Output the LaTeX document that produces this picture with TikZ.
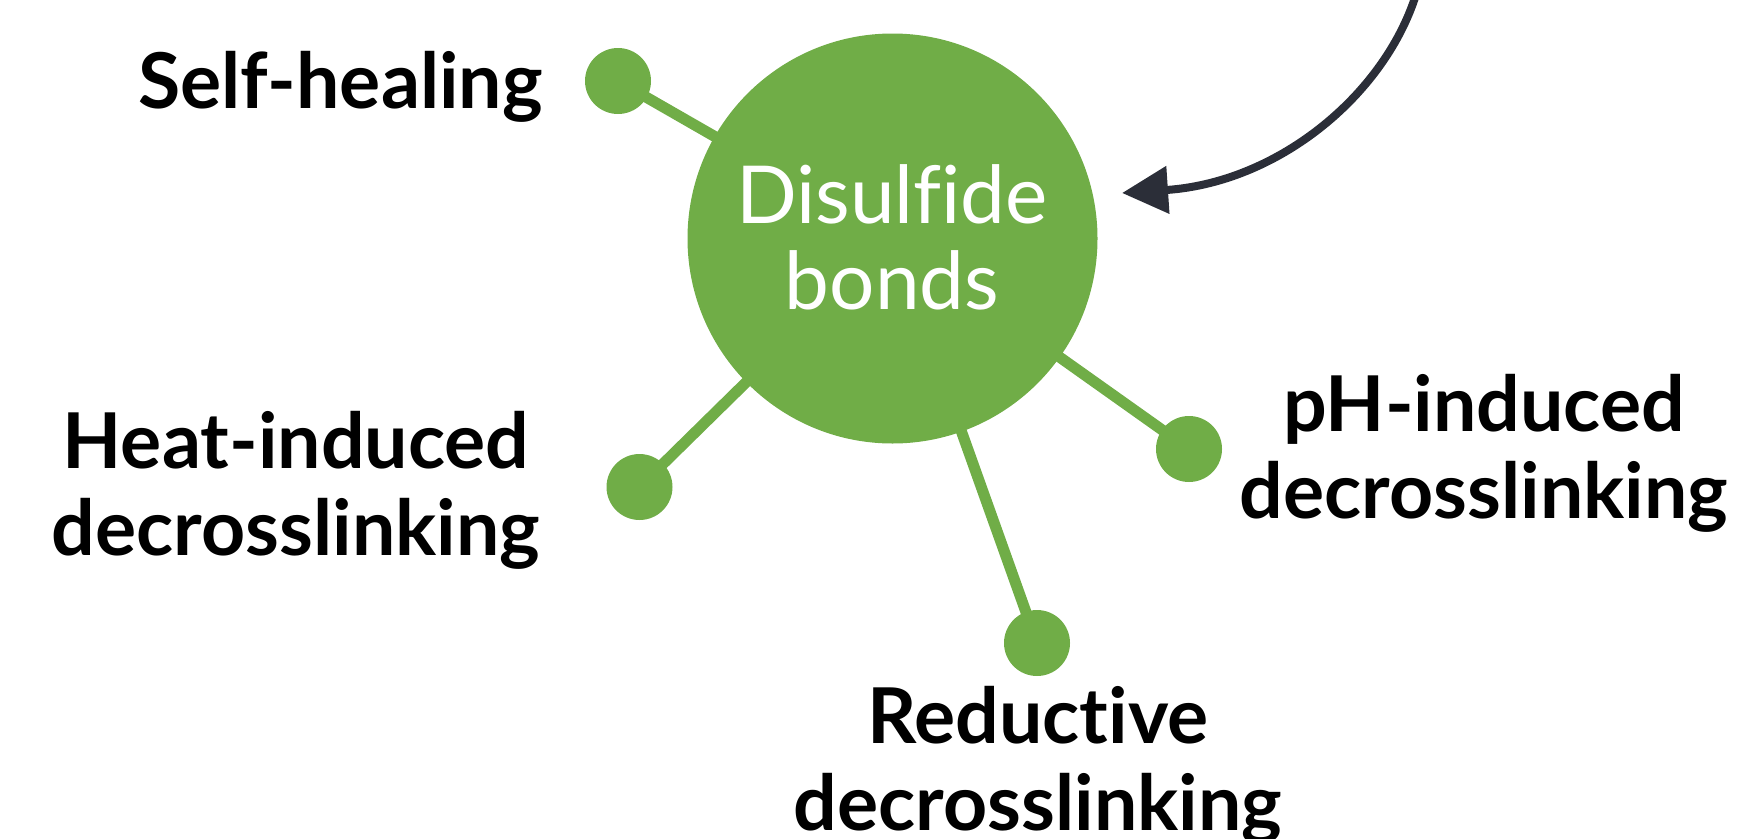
\documentclass[tikz,border=0pt]{standalone}
\usepackage{fontspec}
\setmainfont{Lato}[Ligatures=NoCommon]
\usetikzlibrary{arrows.meta}
\definecolor{leafgreen}{HTML}{70AD47}
\definecolor{inkdark}{HTML}{2B2E38}
\begin{document}
\begin{tikzpicture}[x=1pt,y=-1pt,
  hub/.style={circle,fill=leafgreen,minimum size=410pt,inner sep=0pt},
  knob/.style={circle,fill=leafgreen,minimum size=66pt,inner sep=0pt},
  stem/.style={draw=leafgreen,line width=11pt},
  lbl/.style={font=\fontsize{77}{87}\selectfont\bfseries,align=center,inner sep=0pt},
  hubtext/.style={font=\fontsize{80}{86}\selectfont,text=white,align=center,inner sep=0pt},
  feed/.style={draw=inkdark,line width=8pt,-{Triangle[length=46pt,width=46pt]}}]
\useasboundingbox (0,0) rectangle (1747,838);

% central hub and its four knobs
\coordinate (hc) at (892.5,238.5);
\coordinate (kself) at (618,81);
\coordinate (kheat) at (639.5,487);
\coordinate (kred) at (1037,643);
\coordinate (kph) at (1189,449);

\draw[stem] (kself) -- (hc);
\draw[stem] (kheat) -- (hc);
\draw[stem] (kred) -- (hc);
\draw[stem] (kph) -- (hc);

\node[hub] (hub) at (hc) {};
\node[knob] (self) at (kself) {};
\node[knob] (heat) at (kheat) {};
\node[knob] (red) at (kred) {};
\node[knob] (ph) at (kph) {};

% anchor=base sits on the last line of a two-line node
\node[hubtext,anchor=base] (hubname) at (892,309) {Disulfide\\bonds};

% labels
\node[lbl,anchor=base east] (tself) at (543,108) {Self-healing};
\node[lbl,anchor=base] (theat) at (296,555) {Heat-induced\\decrosslinking};
\node[lbl,anchor=base] (tph) at (1484,518) {pH-induced\\decrosslinking};
\node[lbl,anchor=base] (tred) at (1038,830) {Reductive\\decrosslinking};

% incoming arrow from above
\coordinate (src) at (1420,-20);
\draw[feed] (src) .. controls (1395,85) and (1285,182) .. (1122,193);
\end{tikzpicture}
\end{document}
